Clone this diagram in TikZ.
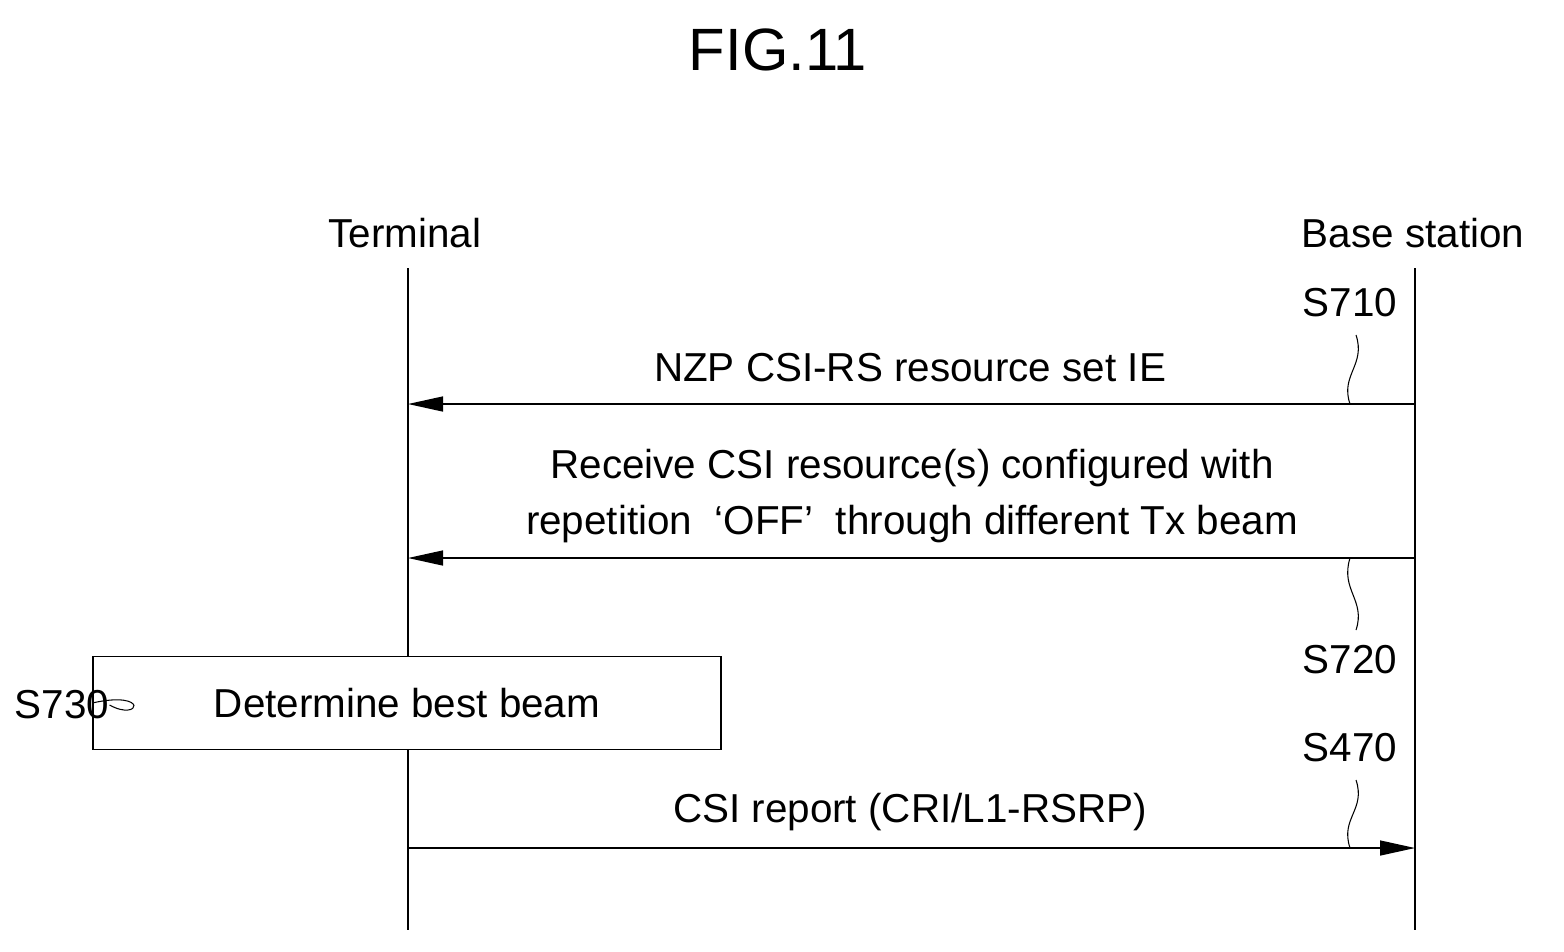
\documentclass[tikz,border=0pt]{standalone}
\usepackage{fontspec}
\setmainfont{Liberation Sans}
\usetikzlibrary{arrows.meta,positioning}

\begin{document}
\begin{tikzpicture}[x=0.02cm,y=-0.02cm,
    lbl/.style={font=\fontsize{23}{30}\selectfont,inner sep=0pt},
    life/.style={draw,line width=0.8pt},
    msg/.style={draw,line width=0.8pt,-{Triangle[length=0.7cm,width=0.3cm]}},
    squig/.style={draw,line width=0.6pt}]
  \useasboundingbox (0,0) rectangle (1564,951);

  \node[lbl,font=\fontsize{34}{40}\selectfont] (fig) at (778,50) {FIG.11};
  \node[lbl] (term) at (405,233) {Terminal};
  \node[lbl] (bs) at (1413,233) {Base station};

  % lifelines
  \coordinate (t0) at (408,268);
  \coordinate (t1) at (408,930);
  \coordinate (b0) at (1415,268);
  \coordinate (b1) at (1415,930);
  \draw[life] (t0) -- (t1);
  \draw[life] (b0) -- (b1);

  % S710
  \coordinate (b710) at (1415,404);
  \coordinate (t710) at (408,404);
  \draw[msg] (b710) -- (t710);
  \node[lbl] (m710) at (910,368) {NZP CSI-RS resource set IE};
  \node[lbl] (s710) at (1350,303) {S710};
  \coordinate (q710a) at (1350,404);
  \coordinate (q710b) at (1356,335);
  \draw[squig] (q710a) .. controls (1340,375) and (1366,365) .. (q710b);

  % S720
  \coordinate (b720) at (1415,558);
  \coordinate (t720) at (408,558);
  \draw[msg] (b720) -- (t720);
  \node[lbl,align=center] (m720) at (912,496)
    {Receive CSI resource(s) configured with\\[2pt]repetition\ \ `OFF'\ \ through different Tx beam};
  \node[lbl] (s720) at (1350,660) {S720};
  \coordinate (q720a) at (1350,558);
  \coordinate (q720b) at (1356,630);
  \draw[squig] (q720a) .. controls (1340,590) and (1366,600) .. (q720b);

  % S730
  \node[lbl,draw,line width=0.8pt,fill=white,minimum width=447\pgflinewidth,
        inner xsep=14pt,minimum height=93*0.02cm] (best) at (407,703) {Determine best beam};
  \node[lbl] (s730) at (62,705) {S730};
  \draw[squig] (s730.east) .. controls (140,722) and (150,690) .. (best.west);

  % S470
  \coordinate (t470) at (408,848);
  \coordinate (b470) at (1415,848);
  \draw[msg] (t470) -- (b470);
  \node[lbl] (m470) at (910,812) {CSI report (CRI/L1-RSRP)};
  \node[lbl] (s470) at (1350,748) {S470};
  \coordinate (q470a) at (1350,848);
  \coordinate (q470b) at (1356,780);
  \draw[squig] (q470a) .. controls (1340,818) and (1366,810) .. (q470b);
\end{tikzpicture}
\end{document}
